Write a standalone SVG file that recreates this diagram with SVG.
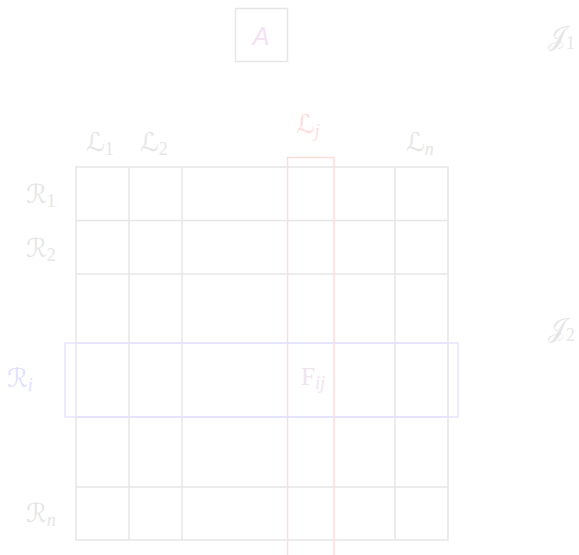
<svg xmlns="http://www.w3.org/2000/svg" width="579" height="555" viewBox="0 0 579 555">
<style>
.g{stroke:#e6e6e6;stroke-width:1.5;fill:none}
.r{stroke:#ffdcdc;stroke-width:1.5;fill:none}
.b{stroke:#e2e0ff;stroke-width:1.3;fill:none}
.t{font-family:"DejaVu Sans","Liberation Serif",serif;font-size:26px;fill:#e6e6e6}
.s{font-size:18px;font-family:"Liberation Serif",serif}
</style>
<rect width="579" height="555" fill="#ffffff"/>
<g id="A">
<rect x="235.5" y="8.5" width="52" height="53" class="g"/>
<text x="261" y="45" text-anchor="middle" style="font-family:'Liberation Sans',sans-serif;font-style:italic;font-size:25px;fill:#f2e2f2">A</text>
</g>
<g id="J1"><text x="548" y="45" class="t">𝒥<tspan class="s" dy="4">1</tspan></text></g>
<g id="J2"><text x="548" y="337" class="t">𝒥<tspan class="s" dy="4">2</tspan></text></g>
<g id="grid">
<rect x="76" y="167" width="372" height="373" class="g"/>
<path class="g" d="M129 167V540M182 167V540M395 167V540M76 220.5H448M76 274H448M76 343H448M76 417H448M76 487H448"/>
</g>
<g id="col-j"><path class="r" d="M287.5 555V157.5H334V555"/></g>
<g id="row-i"><rect x="65" y="343" width="393" height="74" class="b"/></g>
<g id="labels">
<text x="86" y="151" class="t">ℒ<tspan class="s" dy="4">1</tspan></text>
<text x="140" y="151" class="t">ℒ<tspan class="s" dy="4">2</tspan></text>
<text x="296" y="133" class="t" style="fill:#ffdcdc">ℒ<tspan class="s" dy="4" font-style="italic">j</tspan></text>
<text x="406" y="151" class="t">ℒ<tspan class="s" dy="4" font-style="italic">n</tspan></text>
<text x="26" y="203" class="t">ℛ<tspan class="s" dy="4">1</tspan></text>
<text x="26" y="257" class="t">ℛ<tspan class="s" dy="4">2</tspan></text>
<text x="7" y="387" class="t" style="fill:#e2e0ff">ℛ<tspan class="s" dy="4" font-style="italic">i</tspan></text>
<text x="26" y="522" class="t">ℛ<tspan class="s" dy="4" font-style="italic">n</tspan></text>
<text x="301" y="385" class="t" style="fill:#f0e4f0;font-family:'Liberation Serif',serif;font-size:25px">F<tspan class="s" dy="4" font-style="italic">ij</tspan></text>
</g>
</svg>
